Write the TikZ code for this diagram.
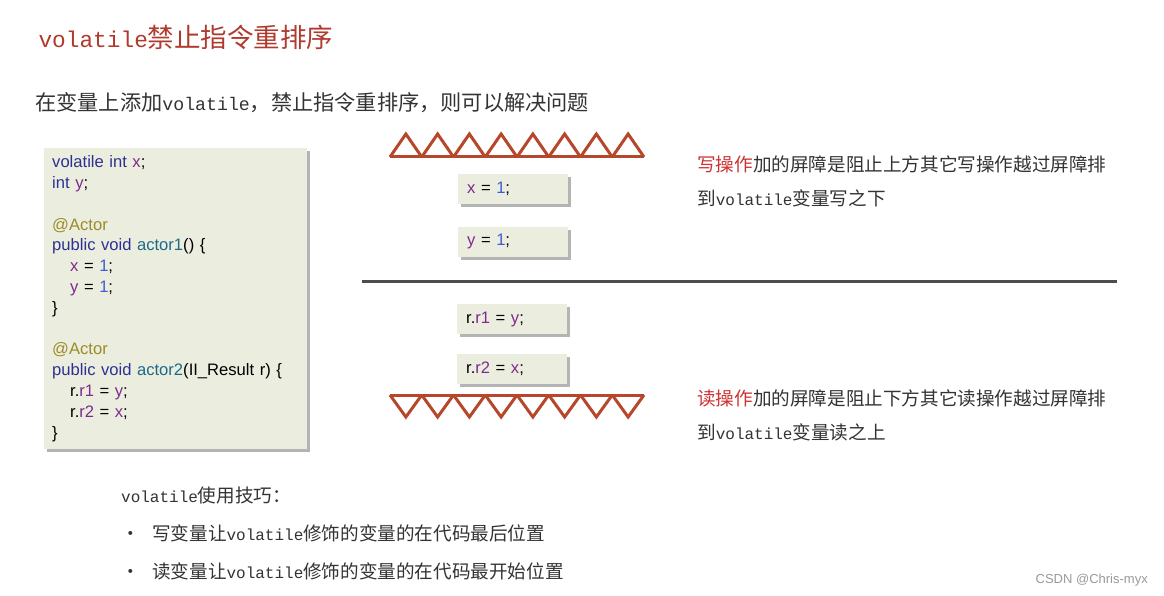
\documentclass[tikz,border=0pt]{standalone}
\usepackage{fontspec}
\setmainfont{Noto Sans CJK SC}
\newfontfamily\codefont{Liberation Sans}
\newfontfamily\latmono[Scale=0.86]{Liberation Mono}
\usetikzlibrary{positioning,shadows}
\definecolor{titleRed}{HTML}{B03A2E}
\definecolor{bodyText}{HTML}{333333}
\definecolor{codeBg}{HTML}{EBEEDF}
\definecolor{shadowGray}{HTML}{B4B4B4}
\definecolor{kwBlue}{HTML}{2E3192}
\definecolor{varPurple}{HTML}{7E2A8E}
\definecolor{annOlive}{HTML}{9C8B2A}
\definecolor{fnTeal}{HTML}{1D6A88}
\definecolor{numBlue}{HTML}{3D5BD9}
\definecolor{barrierRust}{HTML}{B7472A}
\definecolor{sepGray}{HTML}{4D4D4D}
\definecolor{opRed}{HTML}{CC3333}
\definecolor{markGray}{HTML}{9A9A9A}

\newcommand\vl{{\latmono volatile}}
\newcommand\ckw[1]{\textcolor{kwBlue}{#1}}
\newcommand\cvar[1]{\textcolor{varPurple}{#1}}
\newcommand\cann[1]{\textcolor{annOlive}{#1}}
\newcommand\cfun[1]{\textcolor{fnTeal}{#1}}
\newcommand\cnum[1]{\textcolor{numBlue}{#1}}

\begin{document}
\begin{tikzpicture}[
    x=1pt, y=-1pt,
    node distance=22pt,
    codebox/.style={fill=codeBg, inner sep=0pt, align=left,
      font=\codefont\fontsize{16.6}{20.8}\selectfont,
      drop shadow={shadow xshift=3pt, shadow yshift=-3pt, fill=shadowGray, opacity=1}},
    stepbox/.style={codebox, minimum width=110pt, minimum height=30pt,
      text width=92pt, inner xsep=9pt},
    heading/.style={anchor=base west, text=titleRed, font=\fontsize{26.5}{30}\selectfont},
    note/.style={anchor=base west, text=bodyText, inner sep=0pt, font=\fontsize{18.6}{22}\selectfont},
    tip/.style={anchor=base west, text=bodyText, inner sep=0pt, font=\fontsize{18.6}{22}\selectfont},
    barrier/.style={draw=barrierRust, line width=3pt, line join=miter},
    sepline/.style={draw=sepGray, line width=3pt},
  ]
\fill[white] (0,0) rectangle (1164,596);
\useasboundingbox (0,0) rectangle (1164,596);

% ===== headings =====
\node[heading] (title) at (35,48) {\vl 禁止指令重排序};
\node[note, font=\fontsize{21.2}{24}\selectfont] (intro) at (35,111)
  {在变量上添加\vl ，禁止指令重排序，则可以解决问题};

% ===== code listing =====
\node[codebox, anchor=north west, text width=247pt, minimum height=301pt,
  inner xsep=8pt, inner ysep=6pt] (code) at (44,148) {%
\ckw{volatile int} \cvar{x};\\
\ckw{int} \cvar{y};\\
\mbox{}\\
\cann{@Actor}\\
\ckw{public void} \cfun{actor1}() \{\\
\hspace*{18pt}\cvar{x} = \cnum{1};\\
\hspace*{18pt}\cvar{y} = \cnum{1};\\
\}\\
\mbox{}\\
\cann{@Actor}\\
\ckw{public void} \cfun{actor2}(II\_Result r) \{\\
\hspace*{18pt}r.\cvar{r1} = \cvar{y};\\
\hspace*{18pt}r.\cvar{r2} = \cvar{x};\\
\}};

% ===== write barrier =====
\draw[barrier] (390,157) -- (644,157);
\foreach \i in {0,...,7}
  \draw[barrier] ({390+\i*31.75},157) -- ++(15.875,-23) -- ++(15.875,23);

\node[stepbox, anchor=north west] (wrX) at (458,174) {\cvar{x} = \cnum{1};};
\node[stepbox, below=22pt of wrX] (wrY) {\cvar{y} = \cnum{1};};

% separator
\coordinate (sepL) at (362,281);
\coordinate (sepR) at (1117,281);
\draw[sepline] (sepL) -- (sepR);

\node[stepbox, anchor=north west] (rdA) at (457,304) {r.\cvar{r1} = \cvar{y};};
\node[stepbox, below=19pt of rdA] (rdB) {r.\cvar{r2} = \cvar{x};};

% ===== read barrier =====
\draw[barrier] (390,395) -- (644,395);
\foreach \i in {0,...,7}
  \draw[barrier] ({390+\i*31.75},395) -- ++(15.875,22) -- ++(15.875,-22);

% ===== notes =====
\node[note] (wrNote) at (697,172)
  {\textcolor{opRed}{写操作}加的屏障是阻止上方其它写操作越过屏障排};
\node[note] (wrNote2) at (697,205) {到\vl 变量写之下};
\node[note] (rdNote) at (697,405)
  {\textcolor{opRed}{读操作}加的屏障是阻止下方其它读操作越过屏障排};
\node[note] (rdNote2) at (697,439) {到\vl 变量读之上};

% ===== usage tips =====
\node[tip] (tips) at (121,502) {\vl 使用技巧：};
\node[tip] (dotA) at (121,540) {•};
\node[tip] (tipA) at (152,540) {写变量让\vl 修饰的变量的在代码最后位置};
\node[tip] (dotB) at (121,578) {•};
\node[tip] (tipB) at (152,578) {读变量让\vl 修饰的变量的在代码最开始位置};

\node[anchor=base east, text=markGray, inner sep=0pt,
  font=\codefont\fontsize{13}{15}\selectfont] (mark) at (1148,583) {CSDN @Chris-myx};
\end{tikzpicture}
\end{document}
